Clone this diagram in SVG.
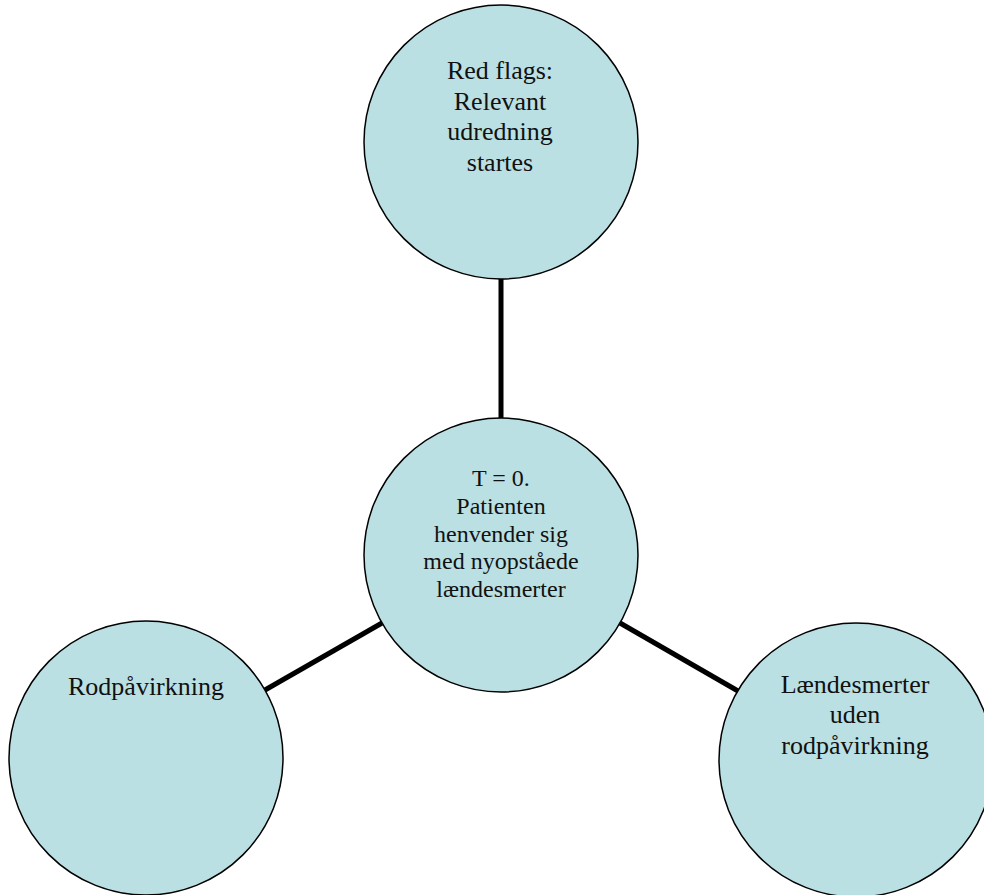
<svg xmlns="http://www.w3.org/2000/svg" width="984" height="895" viewBox="0 0 984 895">
<style>
.node{fill:#BBE0E3;stroke:#000;stroke-width:1.5}
.conn{stroke:#000;stroke-width:5;fill:none}
text{font-family:"Liberation Serif","Times New Roman",serif;fill:#111;text-anchor:middle}
.big{font-size:26px}
.mid{font-size:24px}
</style>
<rect width="984" height="895" fill="#fff"/>
<g id="connectors">
<line class="conn" x1="501" y1="278" x2="501" y2="420"/>
<line class="conn" x1="382" y1="623" x2="265" y2="690"/>
<line class="conn" x1="620" y1="623" x2="738" y2="691"/>
</g>
<g id="node-top">
<circle class="node" cx="501" cy="142" r="137"/>
<text class="big" x="500" y="79">Red flags:</text>
<text class="big" x="500" y="110">Relevant</text>
<text class="big" x="500" y="140">udredning</text>
<text class="big" x="500" y="171">startes</text>
</g>
<g id="node-center">
<circle class="node" cx="501" cy="555" r="137"/>
<text class="mid" x="501" y="486">T = 0.</text>
<text class="mid" x="501" y="514">Patienten</text>
<text class="mid" x="501" y="542">henvender sig</text>
<text class="mid" x="501" y="569">med nyopståede</text>
<text class="mid" x="501" y="597">lændesmerter</text>
</g>
<g id="node-left">
<circle class="node" cx="146" cy="758" r="137"/>
<text class="big" x="146" y="695">Rodpåvirkning</text>
</g>
<g id="node-right">
<circle class="node" cx="856" cy="760" r="137"/>
<text class="big" x="855" y="693">Lændesmerter</text>
<text class="big" x="855" y="723">uden</text>
<text class="big" x="855" y="754">rodpåvirkning</text>
</g>
</svg>
